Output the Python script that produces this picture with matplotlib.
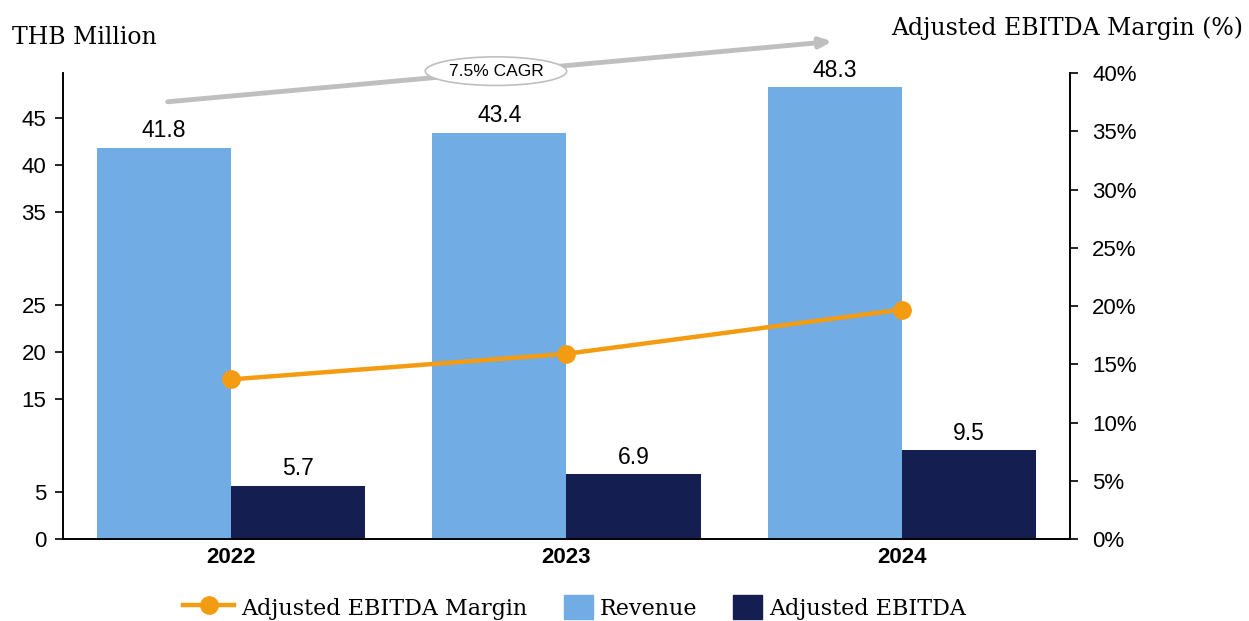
import matplotlib.pyplot as plt
from matplotlib.lines import Line2D
from matplotlib.patches import Patch, Rectangle
from matplotlib.legend_handler import HandlerPatch
from matplotlib.ticker import PercentFormatter

years = ["2022", "2023", "2024"]
revenue = [41.8, 43.4, 48.3]
ebitda = [5.7, 6.9, 9.5]
margin = [13.7, 15.9, 19.7]
left_ticks = [0, 5, 15, 20, 25, 35, 40, 45]
cagr_label = "7.5% CAGR"

REV_COLOR = "#72ACE4"
EBITDA_COLOR = "#151E50"
MARGIN_COLOR = "#F39C12"
SANS = "Liberation Sans"
SERIF = "DejaVu Serif"

fig = plt.figure(figsize=(12.49, 6.21), dpi=100)
ax = fig.add_axes([0.0504, 0.132, 0.8063, 0.7504])
ax2 = ax.twinx()

x = list(range(len(years)))
w = 0.4
rev_bars = ax.bar([i - w / 2 for i in x], revenue, w, color=REV_COLOR)
eb_bars = ax.bar([i + w / 2 for i in x], ebitda, w, color=EBITDA_COLOR)
for bars in (rev_bars, eb_bars):
    ax.bar_label(bars, fmt="%.1f", padding=4, fontsize=16.5, family=SANS)

ax2.plot(x, margin, color=MARGIN_COLOR, lw=3.2, marker="o", ms=12.5, zorder=3)

# axes setup
ax.set_xlim(-0.5, 2.5)
ax.set_ylim(0, 49.8)
ax2.set_ylim(0, 40)
ax.set_yticks(left_ticks)
ax2.set_yticks(range(0, 41, 5))
ax2.yaxis.set_major_formatter(PercentFormatter(decimals=0))
ax.set_xticks(x)
ax.set_xticklabels(years, fontsize=16, fontweight="bold", family=SANS)
ax.tick_params(axis="x", length=0, pad=6)
ax.tick_params(axis="y", length=6, width=1.2, labelsize=16, pad=6)
ax2.tick_params(axis="y", length=6, width=1.2, labelsize=16, pad=10)
for lab in ax.get_yticklabels() + ax2.get_yticklabels():
    lab.set_family(SANS)
for a in (ax, ax2):
    a.spines["top"].set_visible(False)
    for s in ("left", "right", "bottom"):
        a.spines[s].set_linewidth(1.2)

# CAGR arrow with ellipse label
ax.annotate("", xy=(1.80, 53.2), xytext=(-0.196, 46.7),
            arrowprops=dict(arrowstyle="-|>,head_length=0.7,head_width=0.3",
                            color="#BFBFBF", lw=3.5),
            annotation_clip=False)
ax.text(0.79, 50.0, cagr_label, ha="center", va="center", fontsize=12.5,
        family=SANS, clip_on=False,
        bbox=dict(boxstyle="ellipse,pad=0.15", fc="white", ec="#BFBFBF", lw=1.2))

fig.text(0.01, 0.94, "THB Million", fontsize=17, family=SERIF, va="center")
fig.text(0.995, 0.955, "Adjusted EBITDA Margin (%)", fontsize=17, family=SERIF,
         va="center", ha="right")


# square-ish legend patches, pushed to the right of the handle box
def square_patch(legend, orig_handle, xdescent, ydescent, width, height, fontsize):
    side = height * 1.2
    return Rectangle((-xdescent + width - side, -ydescent), side, height)


handles = [
    Line2D([], [], color=MARGIN_COLOR, lw=3.2, marker="o", ms=12.5),
    Patch(color=REV_COLOR),
    Patch(color=EBITDA_COLOR),
]
fig.legend(handles, ["Adjusted EBITDA Margin", "Revenue", "Adjusted EBITDA"],
           loc="center", bbox_to_anchor=(0.46, 0.022), ncol=3, frameon=False,
           prop=dict(family=SERIF, size=16), handlelength=2.3, handleheight=1.3,
           columnspacing=0.65, handletextpad=0.3,
           handler_map={Patch: HandlerPatch(patch_func=square_patch)})

fig.savefig("out.png", dpi=100)
